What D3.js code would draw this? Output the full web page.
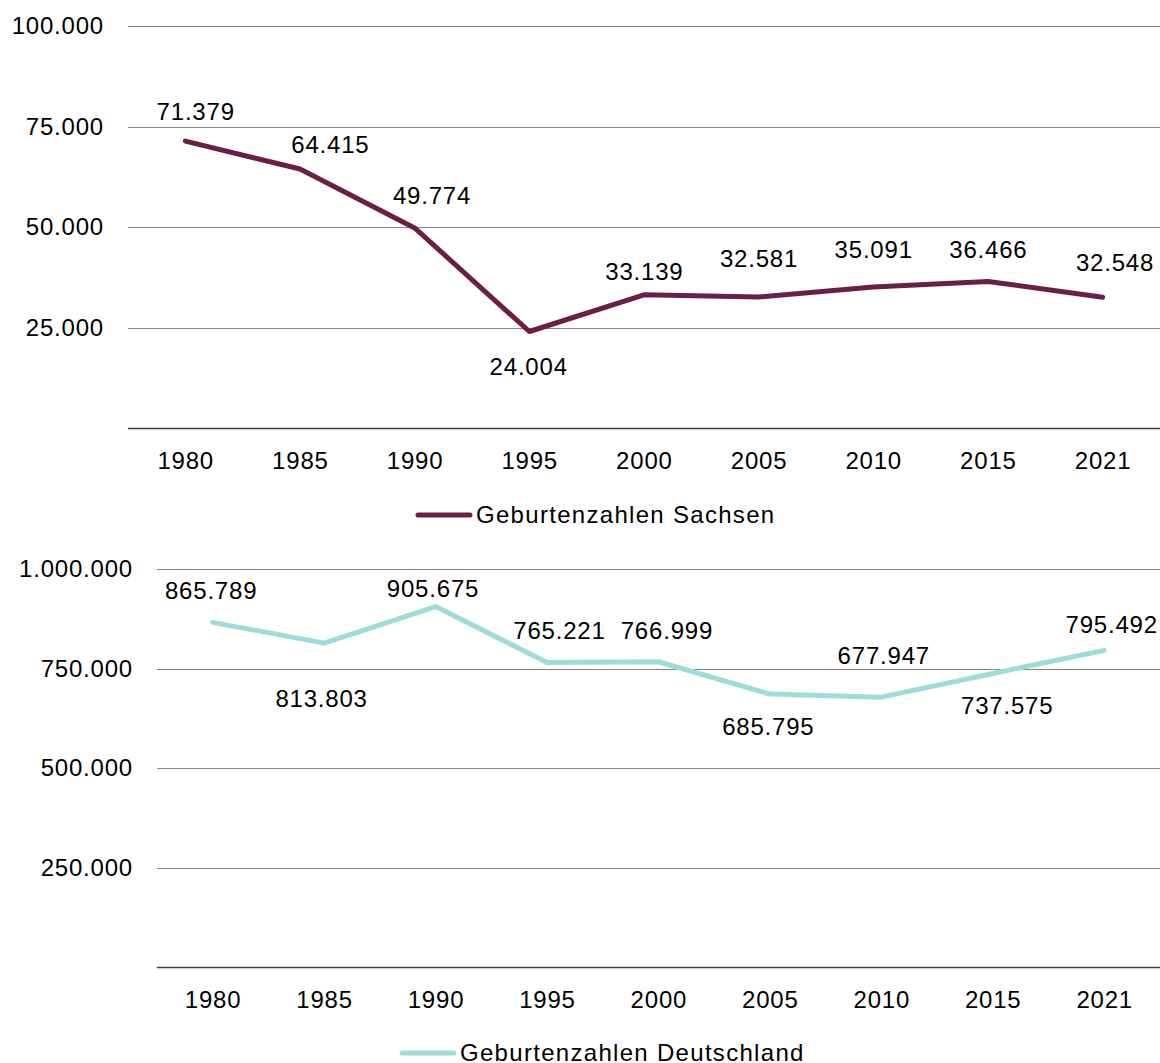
<!DOCTYPE html>
<html><head><meta charset="utf-8">
<script src="https://cdn.jsdelivr.net/npm/d3@7"></script>
<style>body{margin:0;background:#fff}svg text{font-family:"Liberation Sans",Arial,sans-serif;fill:#000;letter-spacing:0.8px}svg text.leg{letter-spacing:1.3px}</style>
</head><body><svg id="c" width="1160" height="1063"></svg>
<script>
const years = ["1980","1985","1990","1995","2000","2005","2010","2015","2021"];
const sachsen = [71379,64415,49774,24004,33139,32581,35091,36466,32548];
const deutschland = [865789,813803,905675,765221,766999,685795,677947,737575,795492];
const sachsenTicks = [25000,50000,75000,100000];
const deutschlandTicks = [250000,500000,750000,1000000];
// label offsets (layout only): [dx, dy] relative to point
const sachsenLabelOff = [[10,-29],[30,-24],[17,-32],[-1,35],[0,-23],[0,-38],[0,-37],[0,-31],[12,-34]];
const deutschLabelOff = [[-2,-31],[-3,56],[-3,-18],[12,-31],[8,-31],[-2,33],[2,-41],[14,33],[7,-25]];

const svg = d3.select("#c");
const fmt = v => d3.format(",")(v).replace(/,/g, ".");

function panel(cfg){
  const x = d3.scaleBand().domain(years).range([cfg.x0, 1160]);
  const y = d3.scaleLinear().domain([0, cfg.max]).range([cfg.yb, cfg.yt]);
  const g = svg.append("g");
  g.selectAll(".grid").data(cfg.ticks).join("line")
    .attr("x1", cfg.x0).attr("x2", 1160)
    .attr("y1", d => Math.round(y(d))+0.5).attr("y2", d => Math.round(y(d))+0.5)
    .attr("stroke", "#868686").attr("stroke-width", 1);
  g.selectAll(".yl").data(cfg.ticks).join("text")
    .attr("x", cfg.x0 - 24).attr("y", d => y(d) + 8)
    .attr("text-anchor", "end").attr("font-size", 24).text(fmt);
  g.append("line").attr("x1", cfg.x0).attr("x2", 1160)
    .attr("y1", Math.round(y(0))+0.5).attr("y2", Math.round(y(0))+0.5)
    .attr("stroke", "#404040").attr("stroke-width", 1.3);
  g.selectAll(".xl").data(years).join("text")
    .attr("x", d => x(d) + x.bandwidth()/2 + 0.4).attr("y", y(0) + 41)
    .attr("text-anchor", "middle").attr("font-size", 24).text(d => d);
  const line = d3.line().x((d,i) => x(years[i]) + x.bandwidth()/2).y(d => y(d));
  g.append("path").datum(cfg.values).attr("d", line)
    .attr("fill", "none").attr("stroke", cfg.color).attr("stroke-width", 5)
    .attr("stroke-linejoin", "round").attr("stroke-linecap", "round");
  g.selectAll(".dl").data(cfg.values).join("text")
    .attr("x", (d,i) => x(years[i]) + x.bandwidth()/2 + cfg.off[i][0] + 0.4)
    .attr("y", (d,i) => y(d) + cfg.off[i][1] + 8)
    .attr("text-anchor", "middle").attr("font-size", 24).text(fmt);
  const lg = g.append("g");
  lg.append("line").attr("x1", cfg.lx).attr("x2", cfg.lx + 52)
    .attr("y1", cfg.ly).attr("y2", cfg.ly)
    .attr("stroke", cfg.color).attr("stroke-width", 5).attr("stroke-linecap", "round");
  lg.append("text").attr("class", "leg").attr("x", cfg.lx + 58).attr("y", cfg.ly + 8)
    .attr("font-size", 24).text(cfg.name);
}

panel({x0:128, yt:26, yb:428, max:100000, ticks:sachsenTicks, values:sachsen,
  color:"#6B1E46", off:sachsenLabelOff, lx:418, ly:515, name:"Geburtenzahlen Sachsen"});
panel({x0:157, yt:569, yb:967, max:1000000, ticks:deutschlandTicks, values:deutschland,
  color:"#9EDCDC", off:deutschLabelOff, lx:402, ly:1053, name:"Geburtenzahlen Deutschland"});
</script></body></html>
